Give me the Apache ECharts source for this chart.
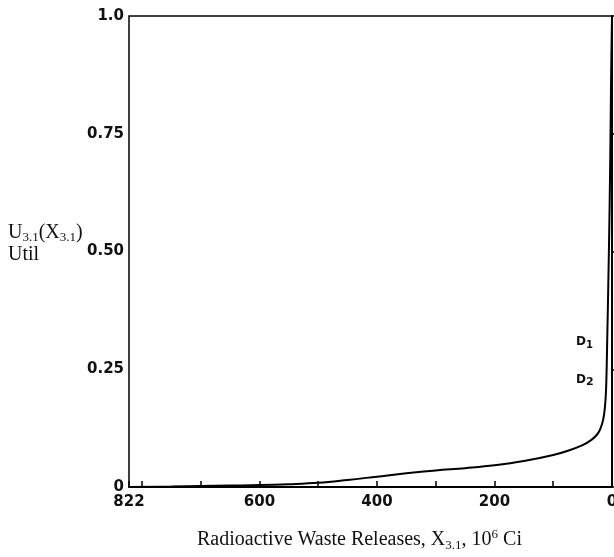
<!DOCTYPE html>
<html>
<head>
<meta charset="utf-8">
<style>
  html, body { margin: 0; padding: 0; background: #fff; }
  #chart { width: 614px; height: 557px; }
</style>
<script src="https://cdn.jsdelivr.net/npm/echarts@6/dist/echarts.min.js"></script>
</head>
<body>
<div id="chart"></div>
<script>
// Radioactive waste releases (10^6 Ci) and their single-attribute utility
const releases = [822, 750, 700, 650, 600, 550, 500, 450, 400, 350, 300, 250, 200, 150, 100, 75, 50, 35, 25, 20, 15, 12, 10, 8, 6, 4, 2.5, 1.5, 0];
const utility  = [0.000, 0.001, 0.002, 0.003, 0.004, 0.006, 0.009, 0.015, 0.022, 0.029, 0.035, 0.040, 0.046, 0.055, 0.068, 0.077, 0.089, 0.100, 0.112, 0.123, 0.143, 0.170, 0.210, 0.320, 0.450, 0.600, 0.750, 0.870, 1.000];

// labelled positions on each axis
const xTickLabels = [822, 600, 400, 200, 0];
const yTickLabels = { 0: '0', 0.25: '0.25', 0.5: '0.50', 0.75: '0.75', 1: '1.0' };

const curve = releases.map((r, i) => [r, utility[i]]);

const tickFont = { fontFamily: 'DejaVu Sans', fontWeight: 'bold', fontSize: 15, color: '#111' };
const serif = 'Liberation Serif';
const sans = 'DejaVu Sans';

const chart = echarts.init(document.getElementById('chart'));
chart.setOption({
  animation: false,
  backgroundColor: '#fff',
  grid: {
    left: 129, right: 2, top: 16, bottom: 70,
    outerBoundsMode: 'none',
    containLabel: false,
    show: true, borderColor: '#000', borderWidth: 1.5
  },
  xAxis: {
    type: 'value',
    inverse: true,
    min: 0, max: 822, interval: 100,
    splitLine: { show: false },
    axisLine: { lineStyle: { color: '#000', width: 2 } },
    axisTick: { inside: true, length: 6, lineStyle: { color: '#000', width: 1.5 } },
    axisLabel: Object.assign({
      margin: 8,
      showMinLabel: true, showMaxLabel: true,
      formatter: v => xTickLabels.includes(v) ? String(v) : ''
    }, tickFont)
  },
  yAxis: {
    type: 'value',
    min: 0, max: 1, interval: 0.25,
    splitLine: { show: false },
    axisLine: { lineStyle: { color: '#000', width: 2 } },
    axisTick: { inside: true, length: 7, lineStyle: { color: '#000', width: 1.5 } },
    axisLabel: Object.assign({
      margin: 5,
      showMinLabel: true, showMaxLabel: true,
      formatter: v => yTickLabels[v] !== undefined ? yTickLabels[v] : ''
    }, tickFont)
  },
  series: [{
    type: 'line',
    data: curve,
    showSymbol: false,
    smooth: 0.4,
    lineStyle: { color: '#000', width: 2 }
  }],
  graphic: [
    {
      type: 'text', left: 8, top: 223,
      style: {
        text: '{n|U}{s|3.1}{n|(X}{s|3.1}{n|)}\n{n|Util}',
        rich: {
          n: { fontFamily: serif, fontSize: 20, lineHeight: 22, fill: '#111', verticalAlign: 'middle' },
          s: { fontFamily: serif, fontSize: 13, lineHeight: 12, fill: '#111', verticalAlign: 'bottom' }
        }
      }
    },
    {
      type: 'text', left: 197, top: 528,
      style: {
        text: '{n|Radioactive Waste Releases, X}{s|3.1}{n|, 10}{p|6}{n| Ci}',
        rich: {
          n: { fontFamily: serif, fontSize: 20, lineHeight: 24, fill: '#111', verticalAlign: 'middle' },
          s: { fontFamily: serif, fontSize: 13, lineHeight: 12, fill: '#111', verticalAlign: 'bottom' },
          p: { fontFamily: serif, fontSize: 13, lineHeight: 14, fill: '#111', verticalAlign: 'top' }
        }
      }
    },
    {
      type: 'text', left: 576, top: 336,
      style: {
        text: '{n|D}{s|1}',
        rich: {
          n: { fontFamily: sans, fontWeight: 'bold', fontSize: 12, lineHeight: 16, fill: '#111', verticalAlign: 'middle' },
          s: { fontFamily: sans, fontWeight: 'bold', fontSize: 10, lineHeight: 10, fill: '#111', verticalAlign: 'bottom' }
        }
      }
    },
    {
      type: 'text', left: 576, top: 374,
      style: {
        text: '{n|D}{s|2}',
        rich: {
          n: { fontFamily: sans, fontWeight: 'bold', fontSize: 12, lineHeight: 16, fill: '#111', verticalAlign: 'middle' },
          s: { fontFamily: sans, fontWeight: 'bold', fontSize: 11, lineHeight: 12, fill: '#111', verticalAlign: 'bottom' }
        }
      }
    }
  ]
});
</script>
</body>
</html>
